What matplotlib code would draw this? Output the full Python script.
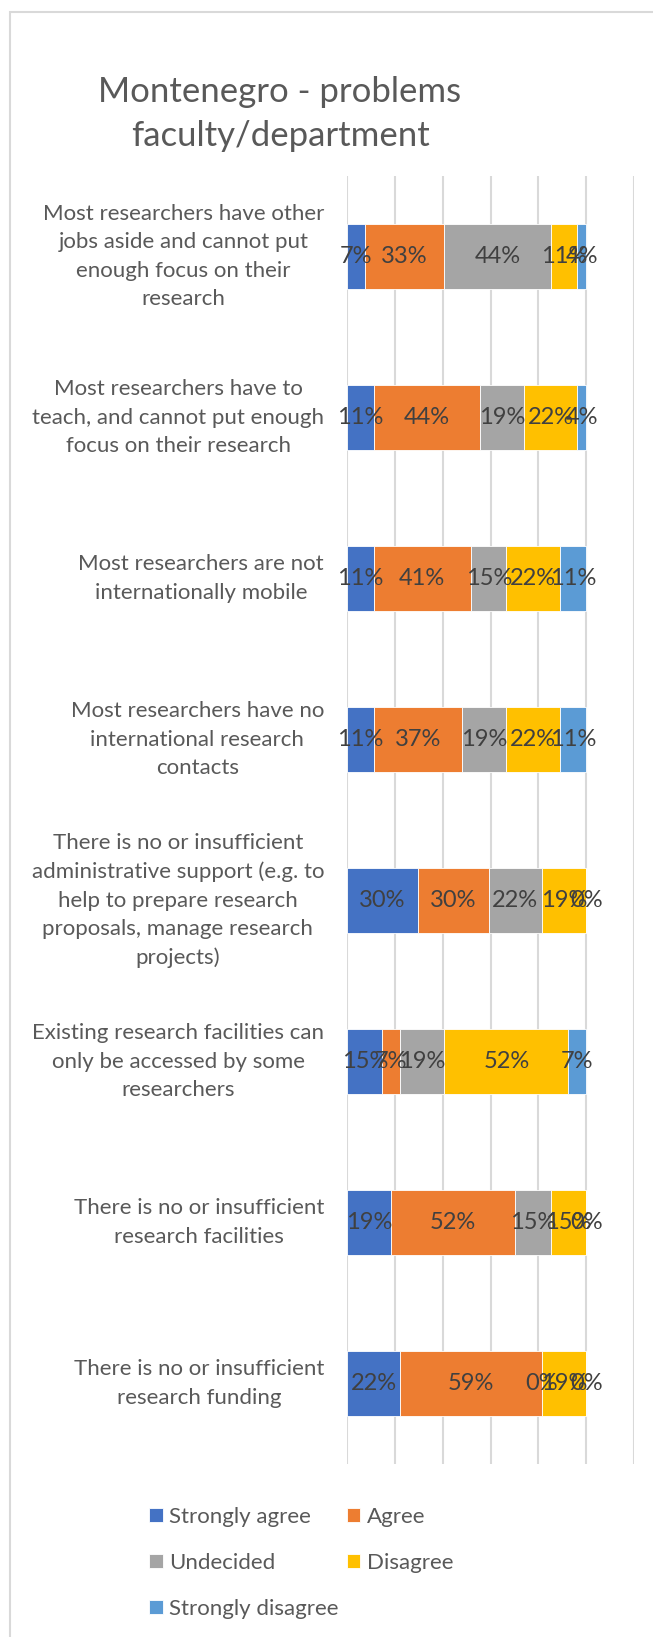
import matplotlib
matplotlib.use("Agg")
import matplotlib.pyplot as plt
from matplotlib.patches import Rectangle

plt.rcParams['font.family'] = ['Lato', 'DejaVu Sans']

categories = [
    "Most researchers have other\njobs aside and cannot put\nenough focus on their\nresearch",
    "Most researchers have to\nteach, and cannot put enough\nfocus on their research",
    "Most researchers are not\ninternationally mobile",
    "Most researchers have no\ninternational research\ncontacts",
    "There is no or insufficient\nadministrative support (e.g. to\nhelp to prepare research\nproposals, manage research\nprojects)",
    "Existing research facilities can\nonly be accessed by some\nresearchers",
    "There is no or insufficient\nresearch facilities",
    "There is no or insufficient\nresearch funding",
]
series_names = ["Strongly agree", "Agree", "Undecided", "Disagree", "Strongly disagree"]
strongly_agree = [7.41, 11.11, 11.11, 11.11, 29.63, 14.81, 18.52, 22.22]
agree = [33.33, 44.44, 40.74, 37.04, 29.63, 7.41, 51.85, 59.26]
undecided = [44.44, 18.52, 14.81, 18.52, 22.22, 18.52, 14.81, 0.0]
disagree = [11.11, 22.22, 22.22, 22.22, 18.52, 51.85, 14.81, 18.52]
strongly_disagree = [3.70, 3.70, 11.11, 11.11, 0.0, 7.41, 0.0, 0.0]
colors = ["#4472C4", "#ED7D31", "#A5A5A5", "#FFC000", "#5B9BD5"]
x_ticks = [0, 20, 40, 60, 80, 100, 120]
title = "Montenegro - problems\nfaculty/department"

W, H = 653, 1637
fig = plt.figure(figsize=(W / 100, H / 100), dpi=100)

# outer chart border (left & top visible)
fig.patches.append(Rectangle((10 / W, -0.01), 1.2, 1 - 12 / H + 0.01,
                             transform=fig.transFigure, fill=False,
                             edgecolor="#D9D9D9", linewidth=1.5))

ax = fig.add_axes([347 / W, 1 - 1464 / H, (634 - 347) / W, (1464 - 176) / H])

series = [strongly_agree, agree, undecided, disagree, strongly_disagree]
ypos = list(range(len(categories)))
left = [0.0] * len(categories)
handles = []
for name, vals, col in zip(series_names, series, colors):
    bars = ax.barh(ypos, vals, left=left, height=0.4, color=col, label=name,
                   edgecolor="white", linewidth=0.6, zorder=3)
    handles.append(bars)
    ax.bar_label(bars, labels=[f"{v:.0f}%" for v in vals], label_type="center",
                 fontsize=17, color="#404040", zorder=4)
    left = [l + v for l, v in zip(left, vals)]

ax.set_xlim(0, 120)
ax.set_ylim(len(categories) - 0.5, -0.5)
ax.set_xticks(x_ticks)
ax.set_xticklabels([])
ax.tick_params(axis="x", length=0)
ax.grid(axis="x", color="#D9D9D9", linewidth=1.5, zorder=0)
ax.set_yticks(ypos)
ax.set_yticklabels(categories, fontsize=16, color="#595959", linespacing=1.52)
ax.tick_params(axis="y", length=0, pad=16.5)
for lbl in ax.get_yticklabels():
    lbl.set_multialignment("center")
    lbl.set_verticalalignment("center")
for s in ax.spines.values():
    s.set_visible(False)

fig.text(280 / W, 1 - 114 / H, title, ha="center", va="center", fontsize=25,
         color="#595959", linespacing=1.43)

# row-wise legend order for 2 columns
order = [0, 2, 4, 1, 3]
fig.legend([handles[i] for i in order], [series_names[i] for i in order],
           loc="upper left", bbox_to_anchor=(149 / W, 1 - 1507 / H), ncol=2,
           frameon=False, fontsize=16, labelcolor="#595959",
           handlelength=0.62, handleheight=0.62, handletextpad=0.3,
           columnspacing=0.35, labelspacing=1.16, borderpad=0, borderaxespad=0)

fig.savefig("out.png", dpi=100)
